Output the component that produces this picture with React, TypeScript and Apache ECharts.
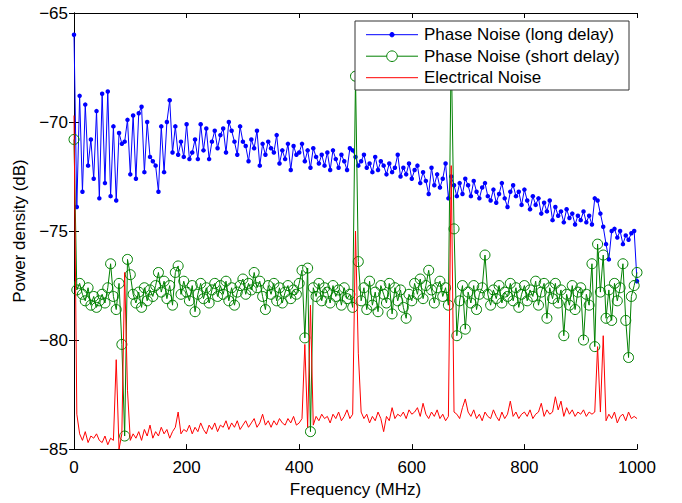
import React, { useEffect, useRef } from "react";
import * as echarts from "echarts";

// Frequency grid step (MHz) shared by all three traces
const FREQ_STEP = 5;

const xTicks = [0, 200, 400, 600, 800, 1000];
const yTicks = [-85, -80, -75, -70, -65];

const seriesNames = [
  "Phase Noise (long delay)",
  "Phase Noise (short delay)",
  "Electrical Noise",
];

// Phase noise, long delay (dB), one value every 5 MHz from 0 to 1000 MHz
const longDelay = [
  -66.0, -73.9, -68.8, -73.2, -69.2, -72.0, -70.8, -72.6, -69.5, -73.5,
  -68.7, -72.8, -68.6, -73.4, -70.2, -73.6, -70.5, -71.0, -70.9, -69.9,
  -72.4, -69.7, -72.6, -69.6, -69.3, -72.3, -70.0, -71.6, -71.8, -72.0,
  -73.2, -70.2, -72.3, -70.0, -69.0, -71.4, -70.2, -71.5, -70.9, -71.6,
  -70.1, -71.7, -71.4, -70.8, -71.7, -70.1, -71.3, -70.3, -71.7, -70.9,
  -70.4, -71.2, -70.6, -70.3, -71.4, -70.0, -70.4, -70.9, -71.5, -70.2,
  -70.9, -71.1, -71.8, -70.8, -71.2, -70.4, -72.0, -71.0, -71.5, -70.9,
  -71.2, -71.4, -70.6, -71.9, -71.3, -71.7, -71.0, -72.2, -71.1, -71.5,
  -71.4, -71.0, -71.8, -71.3, -72.1, -71.2, -71.6, -71.9, -71.5, -72.0,
  -71.4, -72.2, -71.3, -71.7, -72.1, -71.5, -71.8, -72.2, -71.2, -71.3,
  -71.6, -72.0, -71.8, -71.5, -72.1, -71.9, -72.3, -71.6, -72.2, -71.8,
  -72.0, -72.4, -71.9, -72.3, -72.1, -71.5, -72.5, -72.1, -72.4, -71.9,
  -72.6, -72.2, -72.0, -72.8, -72.3, -72.7, -73.3, -72.1, -72.9, -72.4,
  -73.0, -72.6, -71.9, -73.5, -72.5, -72.9, -73.4, -72.8, -73.3, -72.6,
  -72.9, -73.4, -72.7, -73.2, -73.5, -73.0, -72.8, -73.4, -73.6, -73.1,
  -73.7, -73.3, -72.8, -73.5, -73.9, -73.2, -72.9, -73.4, -73.2, -73.8,
  -73.1, -73.6, -74.0, -73.4, -73.8, -73.5, -74.2, -73.7, -74.1, -73.6,
  -74.5, -73.9, -74.3, -74.1, -74.6, -74.0, -74.4, -74.2, -74.7, -74.3,
  -74.5, -74.1, -74.6, -74.3, -74.7, -73.5, -73.6, -74.2, -74.8, -75.6,
  -76.3, -75.0, -74.9, -75.3, -75.0, -75.6, -75.2, -75.4, -75.1, -75.0,
  -77.3,
];

// Phase noise, short delay (dB)
const shortDelay = [
  -70.8, -77.7, -77.4, -77.9, -78.2, -77.6, -78.4, -78.0, -78.5, -78.2,
  -77.9, -78.3, -77.6, -76.5, -78.0, -78.6, -77.4, -80.2, -84.4, -76.3,
  -77.0, -77.9, -78.3, -77.8, -78.5, -77.6, -78.2, -77.7, -78.0, -77.5,
  -76.9, -77.8, -77.3, -78.1, -77.5, -78.4, -76.9, -76.6, -77.9, -77.3,
  -77.8, -78.2, -77.5, -78.7, -77.9, -77.4, -78.1, -77.6, -78.3, -77.7,
  -77.4, -78.0, -77.5, -77.9, -77.3, -78.2, -77.6, -78.4, -77.8, -77.5,
  -77.2, -77.9, -77.4, -77.7, -76.9, -77.6, -77.3, -78.0, -78.6, -77.5,
  -77.9, -77.4, -78.2, -77.6, -78.3, -77.8, -77.5, -78.1, -77.7, -77.9,
  -77.4, -76.8, -79.9, -76.7, -84.2, -77.6, -78.0, -77.4, -78.2, -77.6,
  -77.8, -78.3, -77.5, -78.0, -77.7, -78.4, -77.6, -78.1, -77.9, -78.5,
  -67.9, -76.4, -78.2, -77.6, -78.6, -77.3, -78.4, -77.8, -78.7, -77.5,
  -77.9, -78.3, -77.4, -78.8, -77.6, -78.2, -77.7, -78.5, -79.0, -77.9,
  -78.2, -77.4, -77.9, -77.2, -78.1, -77.5, -76.8, -77.7, -78.3, -77.6,
  -77.3, -78.0, -77.6, -78.4, -66.5, -74.9, -79.8, -78.2, -77.5, -79.5,
  -77.8, -78.3, -77.5, -78.6, -77.9, -77.6, -76.1, -77.9, -78.4, -77.7,
  -78.1, -77.5, -78.3, -77.8, -78.0, -77.4, -78.2, -77.6, -78.5, -77.9,
  -77.5, -78.2, -77.7, -78.0, -77.3, -78.4, -77.8, -77.4, -79.0, -77.6,
  -78.1, -77.4, -78.3, -77.7, -79.8, -77.9, -78.4, -77.5, -78.6, -77.8,
  -77.6, -80.0, -77.9, -78.4, -76.5, -80.3, -75.6, -77.8, -76.1, -79.0,
  -77.7, -79.1, -77.4, -78.2, -77.6, -76.5, -79.1, -80.8, -78.0, -77.5,
  -76.9,
];

// Electrical noise (dB)
const electrical = [
  -69.7, -83.4, -84.3, -84.6, -84.2, -84.7, -84.4, -84.5, -84.3, -84.6,
  -84.7, -84.4, -84.8, -84.5, -84.6, -80.9, -85.0, -84.3, -76.9, -82.3,
  -84.6, -84.3, -84.5, -84.2, -84.6, -84.1, -84.4, -83.9, -84.5, -84.2,
  -84.4, -84.0, -84.3, -84.1, -84.5, -84.2, -84.0, -83.3, -84.3, -84.1,
  -84.2, -83.9, -84.3, -84.0, -84.2, -83.8, -84.1, -84.3, -83.9, -84.1,
  -83.8, -84.2, -83.9, -84.0, -83.7, -84.1, -83.8, -84.0, -83.7, -84.1,
  -83.9, -83.7, -84.0, -83.8, -83.6, -84.0, -83.8, -83.4, -83.9, -83.7,
  -84.0, -83.7, -83.9, -83.6, -83.8, -83.9, -83.6, -83.8, -83.5, -83.9,
  -83.8, -83.6, -80.2, -84.0, -78.4, -83.9, -83.5, -83.7, -83.4, -83.6,
  -83.5, -83.8, -83.4, -83.6, -83.3, -83.7, -83.5, -83.2, -83.6, -83.4,
  -75.0, -80.6, -83.3, -83.6, -83.4, -83.8, -83.5, -83.7, -83.3, -83.6,
  -84.2, -83.5, -83.7, -83.1, -83.6, -83.4, -83.5, -83.3, -83.6, -83.2,
  -83.4, -83.3, -83.1, -83.5, -82.9, -83.4, -83.6, -83.3, -83.5, -83.2,
  -83.6, -83.4, -83.7, -83.5, -72.0, -83.3, -83.4, -83.6, -83.1, -82.7,
  -83.3, -83.5, -83.2, -83.6, -83.4, -83.7, -83.3, -83.5, -83.6, -83.2,
  -83.5, -83.7, -83.3, -83.6, -83.4, -82.8, -83.5, -83.3, -83.6, -83.4,
  -83.3, -83.5, -83.2, -83.6, -83.4, -83.3, -82.9, -83.5, -83.2, -83.4,
  -83.3, -82.6, -83.2, -82.8, -83.5, -83.1, -83.4, -83.2, -83.5, -83.3,
  -83.4, -83.2, -83.5, -83.3, -83.4, -83.3, -80.3, -83.3, -79.8, -83.7,
  -83.4, -83.6, -83.3, -83.8, -83.5, -83.4, -83.7, -83.3, -83.6, -83.5,
  -83.6,
];

const BLUE = "#0000ff";
const GREEN = "#008000";
const RED = "#ff0000";
const FONT = "Liberation Sans, Arial, Helvetica, sans-serif";
const FS = 17;

const toPairs = (vals: number[]) => vals.map((v, i) => [i * FREQ_STEP, v]);
const minusFmt = (v: number) => String(v).replace("-", "\u2212");

export default function App() {
  const ref = useRef<HTMLDivElement>(null);

  useEffect(() => {
    document.body.style.margin = "0";
    if (!ref.current) return;
    const chart = echarts.init(ref.current, undefined, { renderer: "svg" });

    const axisCommon = {
      type: "value" as const,
      axisLine: { show: true, lineStyle: { color: "#000", width: 1 } },
      axisTick: { show: true, inside: true, length: 5, lineStyle: { color: "#000" } },
      splitLine: { show: false },
    };

    const legendX = 355;
    const legendY = 21;
    const rows = [34.7, 56.2, 77.7];
    const Z = 100;

    chart.setOption({
      animation: false,
      backgroundColor: "#fff",
      textStyle: { fontFamily: FONT },
      grid: { left: 74, right: 45, top: 13, bottom: 46, containLabel: false },
      xAxis: [
        {
          ...axisCommon,
          position: "bottom",
          min: 0,
          max: 1000,
          interval: 200,
          axisLabel: {
            color: "#000",
            fontSize: FS,
            fontFamily: FONT,
            margin: 10,
            formatter: (v: number) => String(v),
          },
          name: "Frequency (MHz)",
          nameLocation: "middle",
          nameGap: 28,
          nameTextStyle: { color: "#000", fontSize: FS, fontFamily: FONT },
        },
        {
          ...axisCommon,
          position: "top",
          min: 0,
          max: 1000,
          interval: 200,
          axisLabel: { show: false },
        },
      ],
      yAxis: [
        {
          ...axisCommon,
          position: "left",
          min: -85,
          max: -65,
          interval: 5,
          axisLabel: {
            color: "#000",
            fontSize: FS,
            fontFamily: FONT,
            margin: 6,
            formatter: minusFmt,
          },
          name: "Power density (dB)",
          nameLocation: "middle",
          nameGap: 43,
          nameTextStyle: { color: "#000", fontSize: FS, fontFamily: FONT },
        },
        {
          ...axisCommon,
          position: "right",
          min: -85,
          max: -65,
          interval: 5,
          axisLabel: { show: false },
        },
      ],
      series: [
        {
          name: seriesNames[0],
          type: "line",
          data: toPairs(longDelay),
          symbol: "circle",
          symbolSize: 4.5,
          showSymbol: true,
          itemStyle: { color: BLUE },
          lineStyle: { color: BLUE, width: 1 },
          z: 2,
        },
        {
          name: seriesNames[1],
          type: "line",
          data: toPairs(shortDelay),
          symbol: "circle",
          symbolSize: 10,
          showSymbol: true,
          itemStyle: { color: "rgba(0,0,0,0)", borderColor: GREEN, borderWidth: 1 },
          lineStyle: { color: GREEN, width: 1 },
          z: 3,
        },
        {
          name: seriesNames[2],
          type: "line",
          data: toPairs(electrical),
          symbol: "none",
          showSymbol: false,
          itemStyle: { color: RED },
          lineStyle: { color: RED, width: 1 },
          z: 4,
        },
      ],
      graphic: [
        {
          type: "rect",
          z: Z,
          shape: { x: legendX, y: legendY, width: 274, height: 69 },
          style: { fill: "#fff", stroke: "#333", lineWidth: 1 },
        },
        {
          type: "line",
          z: Z + 1,
          shape: { x1: 366, y1: rows[0], x2: 418, y2: rows[0] },
          style: { stroke: BLUE, lineWidth: 1 },
        },
        {
          type: "circle",
          z: Z + 2,
          shape: { cx: 392, cy: rows[0], r: 2.2 },
          style: { fill: BLUE, stroke: BLUE },
        },
        {
          type: "line",
          z: Z + 1,
          shape: { x1: 366, y1: rows[1], x2: 418, y2: rows[1] },
          style: { stroke: GREEN, lineWidth: 1 },
        },
        {
          type: "circle",
          z: Z + 2,
          shape: { cx: 392, cy: rows[1], r: 5.3 },
          style: { fill: "#fff", stroke: GREEN, lineWidth: 1 },
        },
        {
          type: "line",
          z: Z + 1,
          shape: { x1: 366, y1: rows[2], x2: 418, y2: rows[2] },
          style: { stroke: RED, lineWidth: 1 },
        },
        ...seriesNames.map((t, i) => ({
          type: "text",
          z: Z + 2,
          style: {
            text: t,
            x: 424,
            y: rows[i],
            fill: "#000",
            font: `${FS}px ${FONT}`,
            textAlign: "left",
            textVerticalAlign: "middle",
            verticalAlign: "middle",
          },
        })),
      ],
    });

    return () => chart.dispose();
  }, []);

  return (
    <div
      ref={ref}
      style={{ position: "absolute", left: 0, top: 0, width: 682, height: 503 }}
    />
  );
}
